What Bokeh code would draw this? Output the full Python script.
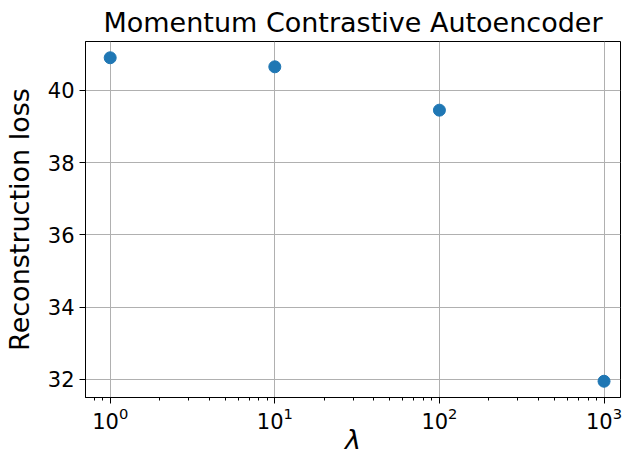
from bokeh.plotting import figure
from bokeh.models import FixedTicker, Range1d, Title
from bokeh.embed import file_html
from bokeh.resources import INLINE

lam = [1, 10, 100, 1000]
loss = [40.90, 40.65, 39.45, 31.95]
x_ticks = [1, 10, 100, 1000]
y_ticks = [32, 34, 36, 38, 40]

FONT = "DejaVu Sans"

p = figure(frame_width=535, frame_height=356, x_axis_type="log",
           x_range=Range1d(10 ** -0.15, 10 ** 3.1),
           y_range=Range1d(31.50, 41.35),
           output_backend="svg", toolbar_location=None,
           min_border_left=75, min_border_right=2,
           min_border_top=0, min_border_bottom=0)

p.add_layout(Title(text="Momentum Contrastive Autoencoder", align="center",
                   text_font=FONT, text_font_size="27px",
                   text_font_style="normal", text_color="black",
                   text_line_height=1.0, standoff=8), "above")

minor = []
for d in [0.1, 1, 10, 100, 1000]:
    for k in range(2, 10):
        minor.append(d * k)
p.xaxis.ticker = FixedTicker(ticks=x_ticks, minor_ticks=minor)
p.yaxis.ticker = FixedTicker(ticks=y_ticks)

for ax in (p.xaxis[0], p.yaxis[0]):
    ax.axis_line_color = "black"
    ax.axis_line_width = 1
    ax.major_tick_line_color = "black"
    ax.major_tick_in = 0
    ax.major_tick_out = 6
    ax.minor_tick_line_color = "black"
    ax.minor_tick_in = 0
    ax.minor_tick_out = 3
    ax.major_label_text_font = FONT
    ax.major_label_text_font_size = "21px"
    ax.major_label_text_color = "black"
    ax.major_label_text_line_height = 1.0
    ax.axis_label_text_font = FONT
    ax.axis_label_text_font_size = "27px"
    ax.axis_label_text_font_style = "normal"
    ax.axis_label_text_color = "black"
    ax.axis_label_text_line_height = 1.0

p.yaxis.minor_tick_out = 0
p.yaxis.axis_label = "Reconstruction loss"
p.xaxis.axis_label = "λ"
p.xaxis.axis_label_text_font_style = "italic"
p.xaxis.major_label_standoff = 3
p.xaxis.axis_label_standoff = -8
p.yaxis.major_label_standoff = 5
p.yaxis.axis_label_standoff = 10

p.xgrid.ticker = FixedTicker(ticks=x_ticks)
p.ygrid.ticker = FixedTicker(ticks=y_ticks)
for g in (p.xgrid[0], p.ygrid[0]):
    g.grid_line_color = "#b0b0b0"
    g.grid_line_width = 1

p.outline_line_color = "black"
p.outline_line_width = 1
p.outline_line_alpha = 1

p.scatter(lam, loss, size=12, color="#1f77b4", line_color="#1f77b4")

open("out.html", "w").write(file_html(p, INLINE))
